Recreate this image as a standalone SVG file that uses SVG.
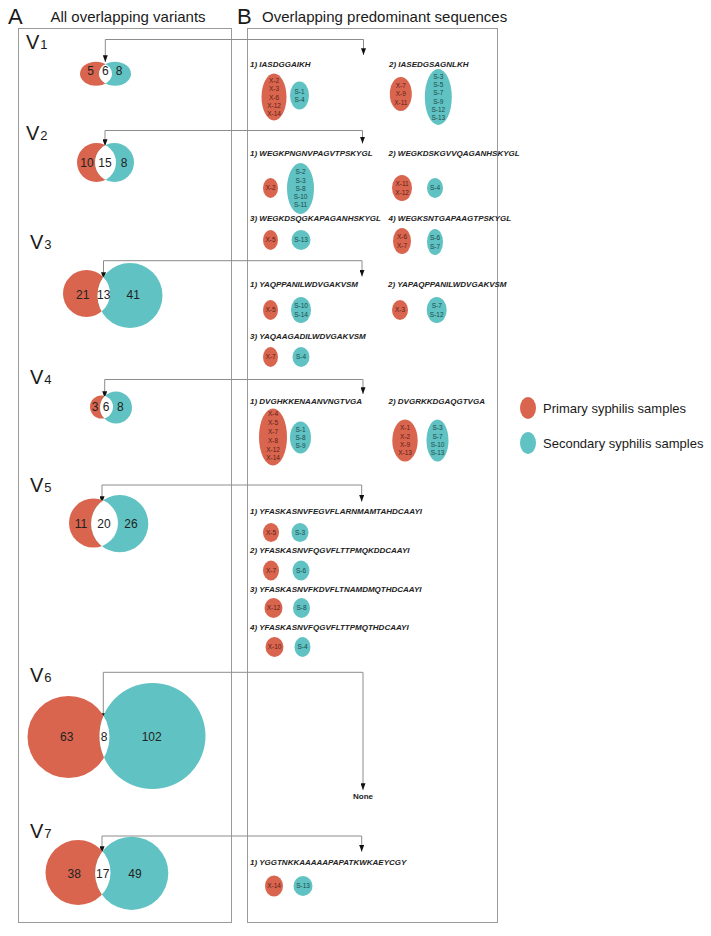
<svg xmlns="http://www.w3.org/2000/svg" width="711" height="936" viewBox="0 0 711 936">
<defs>
<style>
.box{fill:none;stroke:#9a9a9a;stroke-width:1}
.conn{fill:none;stroke:#8c8c8c;stroke-width:1;marker-start:url(#ah);marker-end:url(#ah)}
.r{fill:#D9654F}
.t{fill:#60C2C2}
.w{fill:#ffffff}
.hd{font-family:'Liberation Sans',Arial,sans-serif;fill:#1a1a1a}
.big{font-size:22px}
.ttl{font-size:15px}
.vl{font-family:'Liberation Sans',Arial,sans-serif;font-size:20px;fill:#1a1a1a}
.vs{font-size:13px}
.num{font-family:'Liberation Sans',Arial,sans-serif;font-size:12px;fill:#222;text-anchor:middle}
.seq{font-family:'Liberation Sans',Arial,sans-serif;font-size:8px;font-style:italic;font-weight:bold;fill:#222}
.xs{font-family:'Liberation Sans',Arial,sans-serif;font-size:6.5px;fill:#5a1f15;text-anchor:middle}
.ss{font-family:'Liberation Sans',Arial,sans-serif;font-size:6.5px;fill:#1d4a4a;text-anchor:middle}
.lg{font-family:'Liberation Sans',Arial,sans-serif;font-size:13px;fill:#1a1a1a}
</style>
<marker id="ah" viewBox="0 0 8 6" refX="8" refY="3" markerWidth="7" markerHeight="5" markerUnits="userSpaceOnUse" orient="auto-start-reverse"><path d="M0,0 L8,3 L0,6 z" fill="#111"/></marker>
<clipPath id="c1"><ellipse cx="96" cy="73.7" rx="16" ry="12"/></clipPath>
<clipPath id="c2"><circle cx="96.5" cy="162.5" r="19.5"/></clipPath>
<clipPath id="c3"><circle cx="86.5" cy="293.5" r="23.5"/></clipPath>
<clipPath id="c4"><circle cx="101.5" cy="407" r="11.5"/></clipPath>
<clipPath id="c5"><circle cx="93.5" cy="523" r="24.5"/></clipPath>
<clipPath id="c6"><circle cx="68.5" cy="737" r="41"/></clipPath>
<clipPath id="c7"><circle cx="78" cy="872.5" r="32.5"/></clipPath>
</defs>
<rect width="711" height="936" fill="#ffffff"/>

<g id="headers">
<text class="hd big" x="8" y="24">A</text>
<text class="hd ttl" x="50.5" y="22">All overlapping variants</text>
<text class="hd big" x="237" y="24">B</text>
<text class="hd ttl" x="262" y="22">Overlapping predominant sequences</text>
</g>

<g id="panels">
<rect class="box" x="18.5" y="28.5" width="213" height="894"/>
<rect class="box" x="247.5" y="28.5" width="250" height="894"/>
</g>

<g id="connectors">
<path class="conn" d="M105.3,62 V39.5 H363.5 V55"/>
<path class="conn" d="M105,146 V130.5 H362.5 V143.5"/>
<path class="conn" d="M103.5,279 V260.7 H362 V276.5"/>
<path class="conn" d="M104.7,398 V379.5 H363 V394"/>
<path class="conn" d="M102,503 V485 H361.7 V501.7"/>
<path class="conn" d="M103.3,720 V672.3 H363 V790"/>
<path class="conn" d="M102,853 V836 H361.7 V851.7"/>
</g>

<g id="venn-v1">
<text class="vl" x="26" y="49">V<tspan class="vs" dx="1">1</tspan></text>
<ellipse class="r" cx="96" cy="73.7" rx="16" ry="12"/>
<ellipse class="t" cx="115" cy="73.7" rx="16" ry="12"/>
<ellipse class="w" cx="115" cy="73.7" rx="16" ry="12" clip-path="url(#c1)"/>
<text class="num" x="90.7" y="74.5">5</text>
<text class="num" x="105.3" y="74.5">6</text>
<text class="num" x="119" y="74.5">8</text>
</g>

<g id="venn-v2">
<text class="vl" x="26" y="140">V<tspan class="vs" dx="1">2</tspan></text>
<circle class="r" cx="96.5" cy="162.5" r="19.5"/>
<circle class="t" cx="114.5" cy="162.5" r="19.5"/>
<circle class="w" cx="114.5" cy="162.5" r="19.5" clip-path="url(#c2)"/>
<text class="num" x="87" y="167">10</text>
<text class="num" x="105" y="167">15</text>
<text class="num" x="124" y="167">8</text>
</g>

<g id="venn-v3">
<text class="vl" x="30" y="249">V<tspan class="vs" dx="1">3</tspan></text>
<circle class="r" cx="86.5" cy="293.5" r="23.5"/>
<circle class="t" cx="130" cy="295.5" r="32.5"/>
<circle class="w" cx="130" cy="295.5" r="32.5" clip-path="url(#c3)"/>
<text class="num" x="82.7" y="299">21</text>
<text class="num" x="103.7" y="299">13</text>
<text class="num" x="133.3" y="299">41</text>
</g>

<g id="venn-v4">
<text class="vl" x="30" y="384">V<tspan class="vs" dx="1">4</tspan></text>
<circle class="r" cx="101.5" cy="407" r="11.5"/>
<circle class="t" cx="116" cy="407.5" r="16"/>
<circle class="w" cx="116" cy="407.5" r="16" clip-path="url(#c4)"/>
<text class="num" x="95" y="411">3</text>
<text class="num" x="106" y="411">6</text>
<text class="num" x="120.3" y="411">8</text>
</g>

<g id="venn-v5">
<text class="vl" x="30" y="492">V<tspan class="vs" dx="1">5</tspan></text>
<circle class="r" cx="93.5" cy="523" r="24.5"/>
<circle class="t" cx="119.7" cy="523.7" r="28.6"/>
<circle class="w" cx="119.7" cy="523.7" r="28.6" clip-path="url(#c5)"/>
<text class="num" x="81" y="527.5">11</text>
<text class="num" x="104" y="527.5">20</text>
<text class="num" x="131" y="527.5">26</text>
</g>

<g id="venn-v6">
<text class="vl" x="30" y="682">V<tspan class="vs" dx="1">6</tspan></text>
<circle class="r" cx="68.5" cy="737" r="41"/>
<circle class="t" cx="152.5" cy="736" r="53"/>
<circle class="w" cx="152.5" cy="736" r="53" clip-path="url(#c6)"/>
<text class="num" x="66.7" y="741">63</text>
<text class="num" x="104" y="741">8</text>
<text class="num" x="151.7" y="741">102</text>
</g>

<g id="venn-v7">
<text class="vl" x="30" y="838">V<tspan class="vs" dx="1">7</tspan></text>
<circle class="r" cx="78" cy="872.5" r="32.5"/>
<circle class="t" cx="131.7" cy="873.3" r="36.6"/>
<circle class="w" cx="131.7" cy="873.3" r="36.6" clip-path="url(#c7)"/>
<text class="num" x="74.3" y="877.5">38</text>
<text class="num" x="102.7" y="877.5">17</text>
<text class="num" x="135" y="877.5">49</text>
</g>

<g id="seq-v1-1">
<text class="seq" x="250" y="66.7">1) IASDGGAIKH</text>
<ellipse class="r" cx="274" cy="97" rx="12.5" ry="23.5"/>
<text class="xs" x="274" y="83">X-2</text><text class="xs" x="274" y="91.3">X-3</text><text class="xs" x="274" y="99.6">X-6</text><text class="xs" x="274" y="107.9">X-12</text><text class="xs" x="274" y="116.2">X-14</text>
<ellipse class="t" cx="299.5" cy="95.5" rx="9.5" ry="14"/>
<text class="ss" x="299.5" y="93.6">S-1</text><text class="ss" x="299.5" y="101.8">S-4</text>
</g>
<g id="seq-v1-2">
<text class="seq" x="389" y="66.7">2) IASEDGSAGNLKH</text>
<ellipse class="r" cx="400.8" cy="94" rx="11" ry="17"/>
<text class="xs" x="400.8" y="88">X-7</text><text class="xs" x="400.8" y="96.3">X-9</text><text class="xs" x="400.8" y="104.6">X-11</text>
<ellipse class="t" cx="438.3" cy="97" rx="13.5" ry="28"/>
<text class="ss" x="438.3" y="78.6">S-3</text><text class="ss" x="438.3" y="86.9">S-5</text><text class="ss" x="438.3" y="95.2">S-7</text><text class="ss" x="438.3" y="103.5">S-9</text><text class="ss" x="438.3" y="111.8">S-12</text><text class="ss" x="438.3" y="120.1">S-13</text>
</g>

<g id="seq-v2-1">
<text class="seq" x="250" y="156">1) WEGKPNGNVPAGVTPSKYGL</text>
<ellipse class="r" cx="270.5" cy="188" rx="7.5" ry="10"/>
<text class="xs" x="270.5" y="190.3">X-2</text>
<ellipse class="t" cx="300.5" cy="188.5" rx="13.5" ry="25.5"/>
<text class="ss" x="300.5" y="174.2">S-2</text><text class="ss" x="300.5" y="182.5">S-3</text><text class="ss" x="300.5" y="190.8">S-8</text><text class="ss" x="300.5" y="199.1">S-10</text><text class="ss" x="300.5" y="207.4">S-11</text>
</g>
<g id="seq-v2-2">
<text class="seq" x="388.5" y="156">2) WEGKDSKGVVQAGANHSKYGL</text>
<ellipse class="r" cx="402" cy="188" rx="10" ry="13"/>
<text class="xs" x="402" y="186.2">X-11</text><text class="xs" x="402" y="194.5">X-12</text>
<ellipse class="t" cx="435" cy="188" rx="8" ry="10"/>
<text class="ss" x="435" y="190.3">S-4</text>
</g>
<g id="seq-v2-3">
<text class="seq" x="250" y="221">3) WEGKDSQGKAPAGANHSKYGL</text>
<ellipse class="r" cx="270.5" cy="240" rx="7.5" ry="10"/>
<text class="xs" x="270.5" y="242.3">X-5</text>
<ellipse class="t" cx="301" cy="240" rx="9.5" ry="10"/>
<text class="ss" x="301" y="242.3">S-13</text>
</g>
<g id="seq-v2-4">
<text class="seq" x="388.5" y="221">4) WEGKSNTGAPAAGTPSKYGL</text>
<ellipse class="r" cx="402" cy="241" rx="9" ry="13"/>
<text class="xs" x="402" y="239.2">X-6</text><text class="xs" x="402" y="247.5">X-7</text>
<ellipse class="t" cx="435" cy="242" rx="8" ry="13"/>
<text class="ss" x="435" y="240.2">S-6</text><text class="ss" x="435" y="248.5">S-7</text>
</g>

<g id="seq-v3-1">
<text class="seq" x="250" y="287">1) YAQPPANILWDVGAKVSM</text>
<ellipse class="r" cx="270.5" cy="310" rx="7.5" ry="10"/>
<text class="xs" x="270.5" y="312.3">X-5</text>
<ellipse class="t" cx="301" cy="310" rx="10" ry="13"/>
<text class="ss" x="301" y="308.2">S-10</text><text class="ss" x="301" y="316.5">S-14</text>
</g>
<g id="seq-v3-2">
<text class="seq" x="388" y="287">2) YAPAQPPANILWDVGAKVSM</text>
<ellipse class="r" cx="400" cy="310" rx="8" ry="10"/>
<text class="xs" x="400" y="312.3">X-3</text>
<ellipse class="t" cx="436.7" cy="310" rx="10" ry="13"/>
<text class="ss" x="436.7" y="308.2">S-7</text><text class="ss" x="436.7" y="316.5">S-12</text>
</g>
<g id="seq-v3-3">
<text class="seq" x="250" y="338.5">3) YAQAAGADILWDVGAKVSM</text>
<ellipse class="r" cx="270.5" cy="357" rx="7.5" ry="10"/>
<text class="xs" x="270.5" y="359.3">X-7</text>
<ellipse class="t" cx="301" cy="357" rx="8.5" ry="10"/>
<text class="ss" x="301" y="359.3">S-4</text>
</g>

<g id="seq-v4-1">
<text class="seq" x="250" y="403.5">1) DVGHKKENAANVNGTVGA</text>
<ellipse class="r" cx="273" cy="437" rx="14" ry="28.5"/>
<text class="xs" x="273" y="416.3">X-4</text><text class="xs" x="273" y="425.1">X-5</text><text class="xs" x="273" y="433.9">X-7</text><text class="xs" x="273" y="442.7">X-8</text><text class="xs" x="273" y="451.5">X-12</text><text class="xs" x="273" y="460.3">X-14</text>
<ellipse class="t" cx="300.5" cy="437.5" rx="10.5" ry="16"/>
<text class="ss" x="300.5" y="431.5">S-1</text><text class="ss" x="300.5" y="439.8">S-8</text><text class="ss" x="300.5" y="448.1">S-9</text>
</g>
<g id="seq-v4-2">
<text class="seq" x="388.5" y="403.5">2) DVGRKKDGAQGTVGA</text>
<ellipse class="r" cx="405" cy="440.5" rx="12.7" ry="21"/>
<text class="xs" x="405" y="430.4">X-1</text><text class="xs" x="405" y="438.7">X-2</text><text class="xs" x="405" y="447">X-9</text><text class="xs" x="405" y="455.3">X-13</text>
<ellipse class="t" cx="437.5" cy="440.5" rx="11" ry="21"/>
<text class="ss" x="437.5" y="430.4">S-3</text><text class="ss" x="437.5" y="438.7">S-7</text><text class="ss" x="437.5" y="447">S-10</text><text class="ss" x="437.5" y="455.3">S-13</text>
</g>

<g id="seq-v5-1">
<text class="seq" x="250" y="514">1) YFASKASNVFEGVFLARNMAMTAHDCAAYI</text>
<ellipse class="r" cx="271" cy="532.5" rx="8" ry="9.5"/>
<text class="xs" x="271" y="534.8">X-5</text>
<ellipse class="t" cx="300" cy="532.5" rx="8.5" ry="9.5"/>
<text class="ss" x="300" y="534.8">S-3</text>
</g>
<g id="seq-v5-2">
<text class="seq" x="250" y="553.3">2) YFASKASNVFQGVFLTTPMQKDDCAAYI</text>
<ellipse class="r" cx="271" cy="570.5" rx="8" ry="10"/>
<text class="xs" x="271" y="572.8">X-7</text>
<ellipse class="t" cx="301" cy="570.5" rx="8.5" ry="10"/>
<text class="ss" x="301" y="572.8">S-6</text>
</g>
<g id="seq-v5-3">
<text class="seq" x="250" y="591.7">3) YFASKASNVFKDVFLTNAMDMQTHDCAAYI</text>
<ellipse class="r" cx="273.5" cy="608" rx="9" ry="10"/>
<text class="xs" x="273.5" y="610.3">X-12</text>
<ellipse class="t" cx="301.5" cy="608" rx="8.5" ry="10"/>
<text class="ss" x="301.5" y="610.3">S-8</text>
</g>
<g id="seq-v5-4">
<text class="seq" x="250" y="630">4) YFASKASNVFQGVFLTTPMQTHDCAAYI</text>
<ellipse class="r" cx="274.5" cy="647" rx="9" ry="10"/>
<text class="xs" x="274.5" y="649.3">X-10</text>
<ellipse class="t" cx="302.5" cy="647" rx="8" ry="10"/>
<text class="ss" x="302.5" y="649.3">S-4</text>
</g>

<g id="seq-v6">
<text class="seq" x="363" y="799" text-anchor="middle" style="font-style:normal">None</text>
</g>

<g id="seq-v7-1">
<text class="seq" x="250" y="865">1) YGGTNKKAAAAAPAPATKWKAEYCGY</text>
<ellipse class="r" cx="274" cy="886" rx="9" ry="10.5"/>
<text class="xs" x="274" y="888.3">X-14</text>
<ellipse class="t" cx="303" cy="886" rx="9.5" ry="10"/>
<text class="ss" x="303" y="888.3">S-13</text>
</g>

<g id="legend-primary">
<ellipse class="r" cx="528" cy="408" rx="8" ry="11"/>
<text class="lg" x="543" y="413">Primary syphilis samples</text>
</g>
<g id="legend-secondary">
<ellipse class="t" cx="528" cy="443" rx="8" ry="11"/>
<text class="lg" x="543" y="448">Secondary syphilis samples</text>
</g>
</svg>
